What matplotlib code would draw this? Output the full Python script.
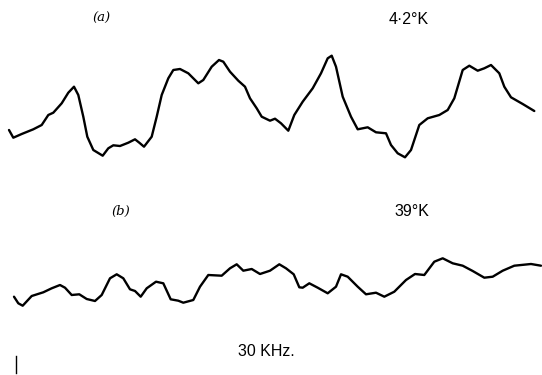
import matplotlib
matplotlib.use("Agg")
import matplotlib.pyplot as plt

# Trace (a), 4.2 K: horizontal position and vertical position (page units, y downwards)
xa = [9, 13.3, 21.7, 33.3, 41.7, 48.3, 53.3, 61.7, 68.3, 74, 78.3, 83.3, 87.3, 93.3, 102.7,
      108.3, 113.3, 120, 128.3, 135, 139.3, 144, 151.7, 156.7, 161.7, 168.3, 173.3, 180,
      188.3, 198.3, 203.3, 211.7, 219, 223.3, 230, 238.3, 245, 250, 256.7, 261.7, 270,
      275, 281, 288.3, 294.3, 302.7, 312.7, 321, 327.7, 331.7, 336, 342.7, 351, 357.7,
      367.7, 376, 386, 391, 397.7, 405, 411, 419.3, 427.7, 439.3, 447.7, 454.3, 462.7,
      469.3, 477.7, 484.3, 491, 499.3, 504.3, 511, 522.7, 534.3]
ya = [130, 137.7, 134, 129.3, 125, 115, 112.7, 103.3, 92.7, 86.7, 95, 116.7, 136.7, 150, 155.7,
      148.3, 145.3, 146, 142.7, 139.3, 142.7, 146.7, 136.7, 116.7, 95, 78.3, 70, 69,
      73.3, 83.3, 80, 66.7, 60, 61.7, 71.7, 80.7, 86.7, 98.3, 108.3, 116.7, 120.7,
      118.7, 123.3, 130.7, 115, 101.7, 88.3, 73.3, 58.3, 55.7, 66.7, 96.7, 116.7, 129.3,
      127.3, 132.3, 133.3, 145, 153.3, 157.3, 150, 125, 118.3, 115, 110, 98.3, 70,
      65.7, 70.7, 68.3, 65, 73.3, 86.7, 97.3, 104, 111]

# Trace (b), 39 K
xb = [14, 18.3, 22.7, 31.7, 43.3, 51.7, 60, 65, 71.7, 79.3, 86.7, 95, 101.7, 110, 116.7,
      123.3, 130, 135, 140.7, 146.7, 156, 163.3, 170.7, 178.3, 183.3, 193.3, 200, 208.3,
      221.7, 230, 236.7, 243.3, 251.7, 260, 270, 279.3, 286, 293.7, 299.3, 302.7, 309.3,
      317.7, 327.7, 336, 341, 347.7, 357.7, 366, 376, 384.3, 394.3, 406, 415, 424.3,
      434.3, 442.7, 452.7, 462.7, 472.7, 484.3, 492.7, 502.7, 514.3, 531, 541]
yb = [296.7, 303.3, 305.7, 296, 292.3, 288.3, 285, 287.7, 295, 294.3, 299, 301, 295, 278.3, 274.3,
      278.3, 289.3, 291, 296.7, 288.3, 281.7, 283.3, 299.3, 300.7, 302.7, 300, 286.7, 275,
      275.7, 268.3, 264.3, 270.7, 269, 274, 270.7, 264.3, 268.3, 274.3, 287.3, 287.7, 283.3,
      287.7, 293.3, 286.7, 274.3, 276.7, 286.7, 294.3, 292.7, 296.7, 291.7, 280, 274, 275,
      261.7, 258.3, 263.3, 265.7, 271, 277.7, 276.7, 270.7, 265.7, 264, 265.7]

labels = ["(a)", "4·2°K", "(b)", "39°K", "30 KHz."]

fig = plt.figure(figsize=(5.42, 3.75), dpi=100)
ax = fig.add_axes([0, 0, 1, 1])
ax.set_xlim(0, 542)
ax.set_ylim(375, 0)
ax.axis("off")

ax.plot(xa, ya, color="black", lw=1.7, solid_capstyle="round", solid_joinstyle="round")
ax.plot(xb, yb, color="black", lw=1.7, solid_capstyle="round", solid_joinstyle="round")

ax.text(101, 18, labels[0], fontsize=9.5, style="italic", family="DejaVu Serif",
        ha="center", va="center")
ax.text(409, 19, labels[1], fontsize=11.5, family="Liberation Sans", ha="center", va="center")
ax.text(121, 211, labels[2], fontsize=9.5, style="italic", family="DejaVu Serif",
        ha="center", va="center")
ax.text(412, 212, labels[3], fontsize=11.5, family="Liberation Sans", ha="center", va="center")
ax.text(266, 352, labels[4], fontsize=11.5, family="Liberation Sans", ha="center", va="center")
ax.plot([16, 16], [356, 373], color="black", lw=1.0)

fig.savefig("out.png", dpi=100)
